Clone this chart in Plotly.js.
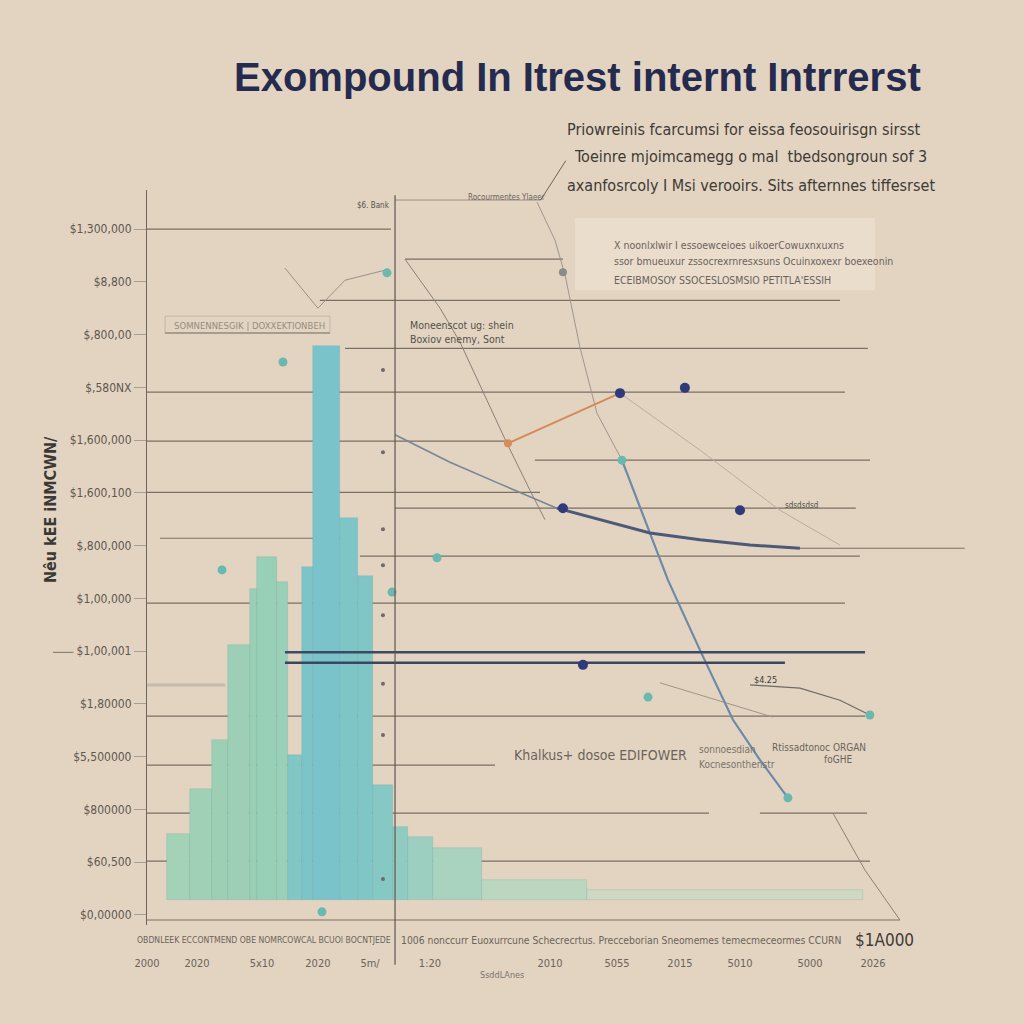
<!DOCTYPE html>
<html>
<head>
<meta charset="utf-8">
<script src="https://cdn.plot.ly/plotly-3.0.1.min.js"></script>
<style>
  body { margin: 0; background: #e3d4c1; }
  #chart { width: 1024px; height: 1024px; }
</style>
</head>
<body>
<div id="chart"></div>
<script>
// histogram bins (years) and bar tops (thousands of $)
var binEdges = [1.33, 2.86, 4.32, 5.38, 6.84, 7.30, 8.63, 9.36, 10.29, 11.02, 12.82, 14.01, 15.01, 16.33, 17.33, 18.99, 22.24, 29.22, 47.54];
var barTops = [153, 239, 332, 512, 618, 678, 631, 303, 659, 1078, 752, 642, 246, 167, 148, 127, 66, 47];
var barBase = 28;

var yTickVals = [0, 100, 200, 300, 400, 500, 600, 700, 800, 900, 1000, 1100, 1200, 1300];
var yTickText = ['$0,00000', '$60,500', '$800000', '$5,500000', '$1,80000', '$1,00,001', '$1,00,000',
                 '$,800,000', '$1,600,100', '$1,600,000', '$,580NX', '$,800,00', '$8,800', '$1,300,000'];
var xTickVals = [0, 3.32, 7.64, 11.35, 14.81, 18.79, 26.76, 31.21, 35.39, 39.38, 44.03, 48.21];
var xTickText = ['2000', '2020', '5x10', '2020', '5m/', '1:20', '2010', '5055', '2015', '5010', '5000', '2026'];

// lines
var curveX = [16.47, 20.12, 23.44, 27.22];
var curveY = [910, 858, 817, 771];
var curve2X = [27.22, 30.08, 33.4, 36.72, 40.04, 43.36];
var curve2Y = [771, 749, 724, 711, 701, 695];
var steelThinX = [25.9, 27.09, 27.76, 28.75, 29.88, 31.54];
var steelThinY = [1351, 1279, 1213, 1076, 951, 862];
var steelX = [31.54, 33.07, 34.59, 36.72, 38.91, 40.7, 42.56];
var steelY = [862, 749, 635, 502, 370, 294, 222];
var orangeX = [23.97, 31.41];
var orangeY = [894, 989];
var diagX = [17.13, 19.46, 20.78, 23.9, 25.43, 26.43];
var diagY = [1243, 1150, 1086, 894, 805, 749];
var fadeX = [31.41, 36.72, 42.03, 46.02];
var fadeY = [989, 881, 767, 701];
var lowRightX = [40.04, 43.36, 46.02, 48.0];
var lowRightY = [436, 430, 407, 379];
var lowMidX = [34.06, 41.57];
var lowMidY = [440, 375];
var cornerX = [45.55, 47.68, 50.0];
var cornerY = [193, 85, -9.5];
var hookX = [9.16, 11.35, 13.15, 15.8];
var hookY = [1226, 1150, 1203, 1222];
var band1X = [9.16, 47.68];
var band1Y = [498, 498];
var band2X = [9.16, 42.36];
var band2Y = [478, 478];

// points
var navyX = [31.41, 35.72, 39.38, 27.62, 28.95];
var navyY = [989, 999, 767, 771, 474];
var tealX = [15.94, 31.54, 42.56, 48.0, 19.26, 33.27, 4.98, 9.03, 11.62, 16.27];
var tealY = [1217, 862, 222, 379, 677, 413, 654, 1048, 6, 612];
var dotX = [15.67, 15.67, 15.67, 15.67, 15.67, 15.67, 15.67, 15.67];
var dotY = [1033, 877, 731, 663, 568, 438, 341, 68];

// guide segments [x0, x1, y]
var guides = [
  [0, 16.2, 1300], [17.13, 27.62, 1243], [11.48, 46.02, 1165], [1.2, 12.15, 1103],
  [13.15, 47.87, 1074], [0, 46.35, 991], [0, 23.97, 898], [25.76, 48.01, 862],
  [0, 26.1, 801], [16.47, 47.07, 771], [0.86, 13.48, 714], [14.14, 47.34, 680],
  [43.36, 54.3, 695], [0, 46.35, 591], [0, 47.68, 377], [0, 23.11, 284],
  [0, 37.32, 193], [40.7, 47.81, 193], [0, 48.01, 102], [0, 50, -9.5]
];

var centers = [], widths = [], lens = [];
for (var i = 0; i < barTops.length; i++) {
  centers.push((binEdges[i] + binEdges[i + 1]) / 2);
  widths.push(binEdges[i + 1] - binEdges[i]);
  lens.push(barTops[i] - barBase);
}

var barColors = ['#a3d2b7', '#a0d1b6', '#9dcfb5', '#9ccfb5', '#9acfb6', '#98cfb7', '#9bd0b8', '#82c6c6',
                 '#7cc4c9', '#7bc3ca', '#7ec5c8', '#80c6c7', '#86c8c4', '#90cbc2', '#9ccfc0', '#a9d3bf',
                 '#bcd7c0', '#cfd8c3'];

var fontN = 'Liberation Sans Narrow, DejaVu Sans Condensed, Liberation Sans, sans-serif';

function ln(x, y, color, w) {
  return {x: x, y: y, type: 'scatter', mode: 'lines', line: {color: color, width: w}, hoverinfo: 'skip', showlegend: false};
}
function pts(x, y, color, size) {
  return {x: x, y: y, type: 'scatter', mode: 'markers', marker: {color: color, size: size}, hoverinfo: 'skip', showlegend: false, cliponaxis: false};
}

var data = [
  {
    x: centers, y: lens, base: barBase, width: widths, type: 'bar',
    marker: {color: barColors, line: {color: 'rgba(90,160,165,0.35)', width: 0.6}},
    hoverinfo: 'skip', showlegend: false
  },
  ln(hookX, hookY, '#9a9087', 1),
  ln(diagX, diagY, '#8a8078', 1),
  ln(fadeX, fadeY, '#b8ada0', 1),
  ln(lowRightX, lowRightY, '#6e6a66', 1.2),
  ln(lowMidX, lowMidY, '#a09488', 1),
  ln(cornerX, cornerY, '#8a8078', 1),
  ln(steelThinX, steelThinY, '#9c9590', 1),
  ln(steelX, steelY, '#6d8aa6', 2.2),
  ln(curveX, curveY, '#7a8499', 1.6),
  ln(curve2X, curve2Y, '#4c5a78', 3),
  ln(band1X, band1Y, '#3c4a66', 2.6),
  ln(band2X, band2Y, '#3a4662', 2.6),
  ln(orangeX, orangeY, '#d58a58', 2),
  pts(dotX, dotY, '#6f6a66', 4),
  pts(tealX, tealY, '#6ab8b0', 9),
  pts([23.97], [894], '#d98b5a', 8),
  pts([27.62], [1218], '#8c8a8a', 8),
  pts(navyX, navyY, '#2f3a7a', 10)
];

var shapes = guides.map(function (g) {
  return {type: 'line', xref: 'x', yref: 'y', x0: g[0], x1: g[1], y0: g[2], y1: g[2],
          line: {color: '#7a6f63', width: 1.2}, layer: 'below'};
});
shapes.push({type: 'line', xref: 'x', yref: 'y', x0: 0, x1: 5.2, y0: 436, y1: 436, line: {color: 'rgba(180,170,160,0.6)', width: 3}, layer: 'below'});
shapes.push({type: 'line', xref: 'x', yref: 'y', x0: 16.47, x1: 26.1, y0: 1355, y1: 1355, line: {color: '#8a8078', width: 0.8}});
shapes.push({type: 'line', xref: 'x', yref: 'paper', x0: 16.47, x1: 16.47, y0: -0.054, y1: 0.993, line: {color: '#5e5650', width: 1.2}});
shapes.push({type: 'rect', xref: 'x', yref: 'y', x0: 1.2, x1: 12.15, y0: 1103, y1: 1135, line: {color: 'rgba(150,140,130,0.5)', width: 0.8}});
shapes.push({type: 'rect', xref: 'x', yref: 'y', x0: 28.42, x1: 48.34, y0: 1184, y1: 1321, fillcolor: 'rgba(240,228,214,0.55)', line: {width: 0}, layer: 'below'});
shapes.push({type: 'line', xref: 'paper', yref: 'paper', x0: 0.481, x1: 0.512, y0: 0.986, y1: 1.04, line: {color: '#6a625b', width: 1}});
shapes.push({type: 'line', xref: 'paper', yref: 'paper', x0: -0.115, x1: -0.09, y0: 0.371, y1: 0.371, line: {color: '#7a6f63', width: 1}});

// annotation helpers (pixel position -> paper)
function px(x) { return (x - 147) / 818; }
function py(y) { return (925 - y) / 735; }
function note(text, x, y, size, color, anchor, extra) {
  var a = {text: text, xref: 'paper', yref: 'paper', x: px(x), y: py(y), showarrow: false,
           xanchor: anchor || 'left', yanchor: 'middle', font: {size: size, color: color, family: fontN}};
  for (var k in extra || {}) a[k] = extra[k];
  return a;
}

var annotations = [
  note('<b>Exompound In Itrest internt Intrrerst</b>', 577, 77, 40, '#252a4f', 'center', {font: {size: 40, color: '#252a4f', family: 'Liberation Sans, Arial, sans-serif'}}),
  note('Priowreinis fcarcumsi for eissa feosouirisgn sirsst', 565, 130, 16, '#3d3a36'),
  note('Toeinre mjoimcamegg o mal  tbedsongroun sof 3', 572, 157, 16, '#3d3a36'),
  note('axanfosrcoly I Msi verooirs. Sits afternnes tiffesrset', 565, 185, 16, '#3d3a36'),
  note('X noonlxlwir I essoewceioes uikoerCowuxnxuxns', 612, 245, 10.5, '#6a635b'),
  note('ssor bmueuxur zssocrexrnresxsuns Ocuinxoxexr boexeonin', 612, 261, 10.5, '#6a635b'),
  note('ECEIBMOSOY SSOCESLOSMSIO PETITLA\'ESSIH', 612, 280, 10.5, '#6a635b'),
  note('$6. Bank', 392, 205, 8, '#55504a', 'right'),
  note('Rocourmentes Ylaeer', 466, 198, 8, '#6a635b'),
  note('SOMNENNESGIK | DOXXEKTIONBEH', 172, 325, 9.5, '#958c82'),
  note('Moneenscot ug: shein', 408, 325, 10.5, '#55504a'),
  note('Boxiov enemy, Sont', 408, 339, 10.5, '#55504a'),
  note('Khalkus+ dosoe EDIFOWER', 512, 755, 14, '#6a635b'),
  note('sonnoesdian', 697, 749, 10, '#7a736b'),
  note('Kocnesonthenstr', 697, 764, 10, '#7a736b'),
  note('Rtissadtonoc ORGAN', 770, 747, 10, '#6a635b'),
  note('foGHE', 822, 759, 10, '#6a635b'),
  note('$4.25', 752, 680, 9, '#3f3a35'),
  note('sdsdsdsd', 783, 505, 8, '#55504a'),
  note('OBDNLEEK ECCONTMEND OBE NOMRCOWCAL BCUOI BOCNTJEDE', 135, 940, 8.6, '#6a635b'),
  note('1006 nonccurr Euoxurrcune Schecrecrtus. Precceborian Sneomemes temecmeceormes CCURN', 399, 940, 10.3, '#6a635b'),
  note('$1A000', 853, 940, 17, '#3f3a35'),
  note('SsddLAnes', 478, 975, 9, '#7a736b'),
  note('<b>Nêu kEE iNMCWN/</b>', 50, 510, 16, '#3b3935', 'center', {textangle: -90})
];

var layout = {
  width: 1024, height: 1024,
  paper_bgcolor: '#e3d4c1',
  plot_bgcolor: '#e3d4c1',
  margin: {l: 147, r: 59, t: 190, b: 99},
  bargap: 0,
  showlegend: false,
  font: {family: fontN, color: '#6b6259'},
  xaxis: {
    range: [0, 54.32], showgrid: false, zeroline: false, showline: false,
    tickmode: 'array', tickvals: xTickVals, ticktext: xTickText, ticks: '',
    ticklabelstandoff: 30, tickfont: {size: 11, color: '#6b6259', family: fontN}
  },
  yaxis: {
    range: [-19, 1374], showgrid: false, zeroline: false,
    showline: true, linecolor: '#6e665d', linewidth: 1.2,
    tickmode: 'array', tickvals: yTickVals, ticktext: yTickText,
    ticks: 'outside', ticklen: 12, tickcolor: '#a89d91', tickwidth: 1,
    tickfont: {size: 12, color: '#5e5750', family: fontN}
  },
  shapes: shapes,
  annotations: annotations
};

Plotly.newPlot('chart', data, layout, {displayModeBar: false});
</script>
</body>
</html>
